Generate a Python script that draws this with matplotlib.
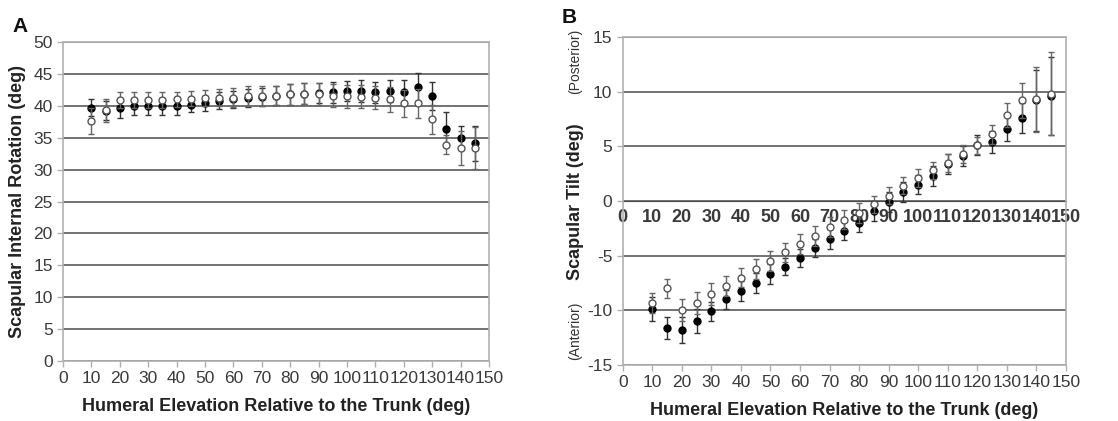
import matplotlib
matplotlib.use("Agg")
import matplotlib.pyplot as plt
import numpy as np

plt.rcParams['font.family'] = ['Liberation Sans', 'DejaVu Sans']
plt.rcParams['axes.unicode_minus'] = False

# humeral elevation angles (deg)
elev = list(range(10, 150, 5))

# Panel A: scapular internal rotation, mean and SD
ir_filled = [39.7, 39.2, 39.7, 39.9, 39.9, 39.9, 40.0, 40.2, 40.4, 40.8, 41.0, 41.2, 41.4, 41.6,
             41.8, 41.9, 42.0, 42.1, 42.3, 42.3, 42.1, 42.3, 42.2, 43.0, 41.6, 36.3, 35.0, 34.1]
ir_filled_sd = [1.3, 1.5, 1.6, 1.4, 1.4, 1.4, 1.4, 1.2, 1.2, 1.3, 1.4, 1.4, 1.4, 1.5,
                1.6, 1.6, 1.5, 1.6, 1.6, 1.7, 1.6, 1.7, 1.8, 2.2, 2.2, 2.8, 1.8, 2.7]
ir_open = [37.6, 39.3, 40.9, 40.9, 40.9, 40.9, 41.0, 41.1, 41.2, 41.3, 41.3, 41.5, 41.5, 41.6,
           41.8, 41.9, 41.8, 41.6, 41.5, 41.4, 41.3, 41.0, 40.4, 40.4, 37.9, 33.9, 33.4, 33.4]
ir_open_sd = [2.0, 1.8, 1.2, 1.2, 1.2, 1.2, 1.2, 1.2, 1.3, 1.4, 1.5, 1.6, 1.6, 1.5,
              1.6, 1.6, 1.7, 1.8, 1.8, 1.8, 1.8, 1.9, 2.1, 2.3, 2.3, 1.5, 2.6, 3.3]

# Panel B: scapular tilt, mean and SD
tilt_filled = [-9.9, -11.6, -11.8, -11.0, -10.1, -9.0, -8.2, -7.5, -6.7, -6.0, -5.2, -4.3, -3.5, -2.7,
               -2.0, -0.9, -0.1, 0.8, 1.5, 2.3, 3.4, 4.1, 5.1, 5.4, 6.6, 7.6, 9.2, 9.6]
tilt_filled_sd = [1.1, 1.0, 1.2, 1.1, 0.9, 0.9, 0.9, 0.9, 0.9, 0.8, 0.8, 0.8, 0.9, 0.9,
                  0.8, 0.9, 0.9, 0.9, 0.9, 0.9, 0.9, 0.9, 0.9, 1.0, 1.1, 1.4, 2.8, 3.6]
tilt_open = [-9.3, -8.0, -10.0, -9.3, -8.5, -7.8, -7.0, -6.2, -5.5, -4.7, -3.9, -3.2, -2.4, -1.7,
             -1.1, -0.3, 0.5, 1.4, 2.1, 2.8, 3.5, 4.3, 5.1, 6.1, 7.9, 9.2, 9.3, 9.8]
tilt_open_sd = [0.9, 0.9, 1.0, 1.0, 1.0, 0.9, 0.9, 0.9, 0.9, 0.9, 0.9, 0.9, 0.9, 0.9,
                0.9, 0.8, 0.8, 0.8, 0.8, 0.8, 0.8, 0.8, 0.8, 0.9, 1.1, 1.6, 3.0, 3.8]

xticks = list(range(0, 151, 10))
xlabel = "Humeral Elevation Relative to the Trunk (deg)"

grid_col = "#5a5a5a"
frame_col = "#b0b0b0"
tick_col = "#3a3a3a"


def draw_series(ax, x, ym, sd, filled):
    if filled:
        ax.errorbar(x, ym, yerr=sd, fmt='o', ms=5, mfc='black', mec='black',
                    ecolor='#333333', elinewidth=1.0, capsize=2, capthick=1.0, zorder=4)
    else:
        ax.errorbar(x, ym, yerr=sd, fmt='o', ms=5, mfc='white', mec='#555555', mew=1.0,
                    ecolor='#666666', elinewidth=1.0, capsize=2, capthick=1.0, zorder=5)


def style_axes(ax, ylim, ystep):
    ax.set_xlim(0, 150)
    ax.set_ylim(*ylim)
    ax.set_xticks(xticks)
    ax.set_yticks(np.arange(ylim[0], ylim[1] + 1, ystep))
    for s in ax.spines.values():
        s.set_color(frame_col)
        s.set_linewidth(1.2)
    ax.yaxis.grid(True, color=grid_col, linewidth=1.2)
    ax.set_axisbelow(True)
    ax.tick_params(axis='both', colors=frame_col, labelcolor=tick_col, labelsize=12.5,
                   length=4, width=1.0, direction='out')
    ax.set_xlabel(xlabel, fontsize=13, fontweight='bold', color='#222222', labelpad=8)


fig = plt.figure(figsize=(11.18, 4.21), dpi=100)
axA = fig.add_axes([0.0564, 0.1425, 0.381, 0.7577])
axB = fig.add_axes([0.557, 0.133, 0.3965, 0.779])

# Panel A
style_axes(axA, (0, 50), 5)
draw_series(axA, elev, ir_filled, ir_filled_sd, True)
draw_series(axA, elev, ir_open, ir_open_sd, False)
axA.set_ylabel("Scapular Internal Rotation (deg)", fontsize=13, fontweight='bold',
               color='#222222', labelpad=5)
fig.text(0.011, 0.925, "A", fontsize=15, fontweight='bold', color='#111111')

# Panel B
style_axes(axB, (-15, 15), 5)
draw_series(axB, elev, tilt_filled, tilt_filled_sd, True)
draw_series(axB, elev, tilt_open, tilt_open_sd, False)
fig.text(0.5145, 0.52, "Scapular Tilt (deg)", rotation=90, fontsize=13, fontweight='bold',
         color='#222222', ha='center', va='center')
fig.text(0.5145, 0.855, "(Posterior)", rotation=90, fontsize=10, color='#333333',
         ha='center', va='center')
fig.text(0.5145, 0.215, "(Anterior)", rotation=90, fontsize=10, color='#333333',
         ha='center', va='center')
fig.text(0.502, 0.945, "B", fontsize=15, fontweight='bold', color='#111111')

# x tick labels repeated along the zero line
sec = axB.secondary_xaxis(0.5)
sec.set_xticks(xticks)
sec.xaxis.set_ticks_position('bottom')
sec.spines['bottom'].set_visible(False)
sec.tick_params(axis='x', length=0, labelsize=13, labelcolor='#3a3a3a', pad=6)
for lbl in sec.get_xticklabels():
    lbl.set_fontweight('bold')

fig.savefig("out.png", dpi=100)
